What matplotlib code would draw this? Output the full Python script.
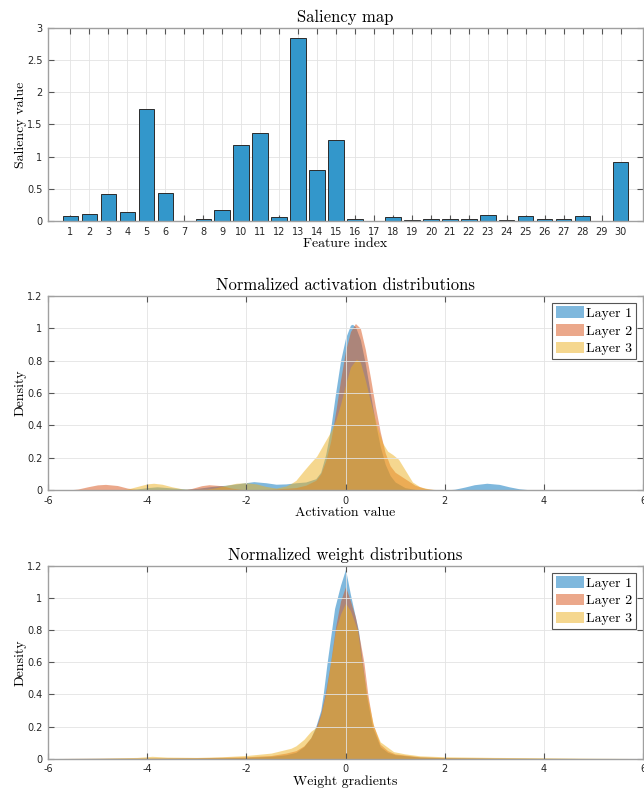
import numpy as np
import matplotlib
matplotlib.use("Agg")
import matplotlib.pyplot as plt
from matplotlib.patches import Patch

# saliency values per feature
features = np.arange(1, 31)
saliency = [0.073, 0.104, 0.42, 0.14, 1.736, 0.43, 0.002, 0.031, 0.166, 1.176,
            1.363, 0.062, 2.845, 0.788, 1.264, 0.036, 0.005, 0.057, 0.02, 0.03,
            0.025, 0.03, 0.088, 0.015, 0.073, 0.03, 0.036, 0.073, 0.0, 0.912]

# activation densities (x, density)
act_x1 = [-6.0, -4.5, -4.3, -4.0, -3.8, -3.5, -3.2, -3.0, -2.7, -2.4, -2.1, -1.85, -1.6, -1.4,
          -1.2, -1.0, -0.8, -0.6, -0.5, -0.4, -0.3, -0.2, -0.1, 0.0, 0.1, 0.14, 0.2, 0.3, 0.4,
          0.5, 0.6, 0.7, 0.8, 0.9, 1.0, 1.2, 1.4, 1.6, 2.0, 2.2, 2.4, 2.6, 2.85, 3.1, 3.3,
          3.5, 3.7, 3.9, 6.0]
act_y1 = [0, 0, 0.003, 0.015, 0.02, 0.013, 0.006, 0.01, 0.022, 0.03, 0.042, 0.052, 0.045, 0.036,
          0.038, 0.045, 0.05, 0.07, 0.11, 0.22, 0.38, 0.6, 0.8, 0.94, 1.02, 1.025, 1.01, 0.93, 0.78,
          0.6, 0.42, 0.27, 0.16, 0.09, 0.05, 0.015, 0.004, 0, 0, 0.005, 0.018, 0.033, 0.042, 0.035, 0.02,
          0.008, 0.002, 0, 0]
act_x2 = [-6.0, -5.6, -5.4, -5.2, -5.0, -4.84, -4.6, -4.4, -4.2, -4.0, -3.3, -3.1, -2.9, -2.75,
          -2.5, -2.3, -2.1, -1.9, -1.5, -1.0, -0.8, -0.6, -0.5, -0.4, -0.3, -0.2, -0.1, 0.0, 0.1,
          0.2, 0.3, 0.4, 0.5, 0.6, 0.7, 0.8, 0.9, 1.0, 1.1, 1.2, 1.4, 1.6, 1.8, 2.0, 6.0]
act_y2 = [0, 0, 0.006, 0.02, 0.032, 0.035, 0.028, 0.012, 0.003, 0, 0, 0.01, 0.027, 0.033,
          0.027, 0.012, 0.004, 0.002, 0.005, 0.015, 0.03, 0.06, 0.1, 0.18, 0.3, 0.48, 0.68, 0.86, 0.98,
          1.03, 1.0, 0.87, 0.7, 0.52, 0.36, 0.23, 0.15, 0.11, 0.09, 0.07, 0.03, 0.01, 0.002, 0, 0]
act_x3 = [-6.0, -4.6, -4.4, -4.2, -4.0, -3.87, -3.7, -3.5, -3.3, -3.1, -2.8, -2.6, -2.4, -2.2,
          -2.0, -1.8, -1.6, -1.4, -1.2, -1.1, -1.0, -0.84, -0.7, -0.58, -0.45, -0.3, -0.2, -0.1,
          0.0, 0.1, 0.22, 0.3, 0.4, 0.5, 0.63, 0.75, 0.85, 0.95, 1.07, 1.19, 1.35, 1.5, 1.7, 1.95, 6.0]
act_y3 = [0, 0, 0.006, 0.022, 0.038, 0.042, 0.036, 0.02, 0.008, 0.003, 0.005, 0.015, 0.03, 0.042,
          0.045, 0.038, 0.022, 0.012, 0.025, 0.04, 0.06, 0.12, 0.17, 0.21, 0.28, 0.36, 0.43, 0.53,
          0.65, 0.76, 0.81, 0.79, 0.68, 0.55, 0.4, 0.29, 0.24, 0.22, 0.19, 0.13, 0.05, 0.02, 0.006, 0, 0]

# weight gradient densities
w_x1 = [-6.0, -4.0, -3.0, -2.0, -1.5, -1.2, -1.0, -0.84, -0.7, -0.6, -0.5, -0.45, -0.37, -0.28,
        -0.22, -0.1, 0.0, 0.1, 0.2, 0.26, 0.34, 0.42, 0.54, 0.7, 0.85, 1.0, 1.5, 2.0, 3.0, 4.0, 6.0]
w_y1 = [0.001, 0.003, 0.004, 0.008, 0.015, 0.025, 0.04, 0.075, 0.13, 0.2, 0.3, 0.4, 0.6, 0.8,
        0.935, 1.08, 1.178, 1.02, 0.88, 0.8, 0.6, 0.4, 0.2, 0.075, 0.04, 0.025, 0.01, 0.006, 0.003, 0.002, 0]
w_x2 = [-6.0, -4.0, -3.0, -2.0, -1.5, -1.2, -1.0, -0.84, -0.7, -0.6, -0.5, -0.4, -0.3, -0.2,
        -0.1, 0.0, 0.1, 0.2, 0.3, 0.37, 0.45, 0.55, 0.7, 0.85, 1.0, 1.5, 2.0, 3.0, 4.0, 6.0]
w_y2 = [0.001, 0.004, 0.006, 0.012, 0.02, 0.035, 0.05, 0.08, 0.13, 0.19, 0.28, 0.42, 0.6, 0.82,
        0.98, 1.07, 0.98, 0.88, 0.72, 0.6, 0.4, 0.22, 0.09, 0.05, 0.03, 0.012, 0.007, 0.004, 0.002, 0]
w_x3 = [-6.0, -5.0, -4.2, -3.9, -3.6, -3.0, -2.5, -2.0, -1.5, -1.3, -1.1, -1.0, -0.84, -0.7,
        -0.57, -0.5, -0.4, -0.3, -0.2, -0.1, 0.0, 0.1, 0.24, 0.33, 0.43, 0.57, 0.7, 0.97, 1.2,
        1.5, 2.0, 3.0, 4.0, 5.0, 6.0]
w_y3 = [0.001, 0.003, 0.008, 0.015, 0.01, 0.008, 0.012, 0.02, 0.035, 0.05, 0.065, 0.08, 0.12, 0.17,
        0.2, 0.27, 0.4, 0.6, 0.8, 0.9, 0.967, 0.92, 0.8, 0.6, 0.4, 0.2, 0.105, 0.044, 0.03,
        0.018, 0.012, 0.008, 0.006, 0.003, 0.001]

layer_names = ["Layer 1", "Layer 2", "Layer 3"]
cols = [(0, 0.447, 0.741), (0.85, 0.325, 0.098), (0.929, 0.694, 0.125)]

serif = "cmr10"
axcol = "#a0a0a0"
tickcol = "#262626"

fig = plt.figure(figsize=(6.44, 7.9), dpi=100)
ax1 = fig.add_axes([0.0745, 0.7203, 0.924, 0.2443])
ax2 = fig.add_axes([0.0745, 0.3797, 0.924, 0.2456])
ax3 = fig.add_axes([0.0745, 0.0396, 0.924, 0.2443])


def style(ax):
    for s in ax.spines.values():
        s.set_color(axcol)
        s.set_linewidth(1.0)
    ax.tick_params(direction="in", length=4, width=0.8, color="#555555",
                   labelsize=7, labelcolor=tickcol, top=True, right=True, pad=4)
    ax.grid(True, color="#e3e3e3", linewidth=0.6)


# saliency bars
ax1.bar(features, saliency, width=0.8, color="#3397CB", edgecolor="#2b2b2b", linewidth=0.7, zorder=2)
ax1.set_xlim(-0.17, 31.17)
ax1.set_ylim(0, 3)
ax1.set_xticks(features)
ax1.set_xticklabels([str(f) for f in features])
ax1.set_yticks([0, 0.5, 1, 1.5, 2, 2.5, 3])
ax1.set_yticklabels(["0", "0.5", "1", "1.5", "2", "2.5", "3"])
style(ax1)
ax1.set_title("Saliency map", family=serif, fontsize=12, pad=4)
ax1.set_xlabel("Feature index", family=serif, fontsize=10, labelpad=1)
ax1.set_ylabel("Saliency value", family=serif, fontsize=10, labelpad=0)


def density(ax, xs, ys, title, xlabel):
    for x, y, c in zip(xs, ys, cols):
        ax.fill_between(x, y, 0, color=c, alpha=0.5, linewidth=0)
    ax.set_xlim(-6, 6)
    ax.set_ylim(0, 1.2)
    ax.set_xticks([-6, -4, -2, 0, 2, 4, 6])
    ax.set_xticklabels(["-6", "-4", "-2", "0", "2", "4", "6"])
    ax.set_yticks([0, 0.2, 0.4, 0.6, 0.8, 1.0, 1.2])
    ax.set_yticklabels(["0", "0.2", "0.4", "0.6", "0.8", "1", "1.2"])
    style(ax)
    ax.set_title(title, family=serif, fontsize=12, pad=4)
    ax.set_xlabel(xlabel, family=serif, fontsize=10, labelpad=1)
    ax.set_ylabel("Density", family=serif, fontsize=10, labelpad=0)
    handles = [Patch(facecolor=c, alpha=0.5, linewidth=0) for c in cols]
    leg = ax.legend(handles, layer_names, loc="upper right", prop={"family": serif, "size": 10},
                    fancybox=False, framealpha=1, edgecolor="#555555", borderpad=0.25,
                    handlelength=2.0, handleheight=0.9, handletextpad=0.2, labelspacing=0.3,
                    borderaxespad=0.5)
    leg.get_frame().set_linewidth(0.8)


density(ax2, [act_x1, act_x2, act_x3], [act_y1, act_y2, act_y3],
        "Normalized activation distributions", "Activation value")
density(ax3, [w_x1, w_x2, w_x3], [w_y1, w_y2, w_y3],
        "Normalized weight distributions", "Weight gradients")

fig.savefig("out.png", dpi=100)
